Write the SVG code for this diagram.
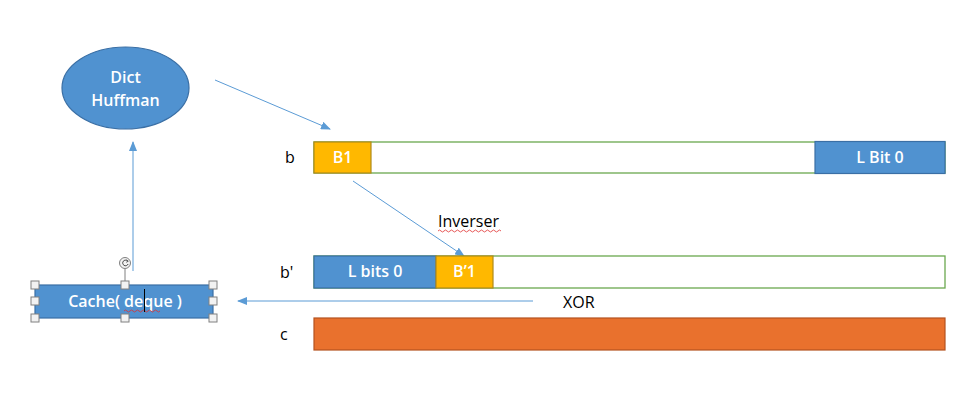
<svg xmlns="http://www.w3.org/2000/svg" width="974" height="404" viewBox="0 0 974 404">
<defs>
<style>
.lbl{font-family:"Open Sans","Liberation Sans",sans-serif;font-size:16px;fill:#000}
.wt{font-family:"Open Sans","Liberation Sans",sans-serif;font-size:16px;font-weight:600;fill:#fff;text-anchor:middle}
.blue{fill:#5092D0;stroke:#3A6FA5;stroke-width:1.2}
.orange{fill:#FFB800;stroke:#B08A1A;stroke-width:1.2}
.frame{fill:#fff;stroke:#6AA84F;stroke-width:1.3}
.conn{stroke:#5B9BD5;stroke-width:1;fill:none}
.handle{fill:#f2f2f2;stroke:#808080;stroke-width:1}
.squig{stroke:#E03030;stroke-width:0.8;fill:none}
</style>
<marker id="ah" markerWidth="10" markerHeight="8" refX="9" refY="4" orient="auto" markerUnits="userSpaceOnUse">
<path d="M0,0 L10,4 L0,8 Z" fill="#5B9BD5"/>
</marker>
</defs>
<rect width="974" height="404" fill="#fff"/>

<g id="connectors">
<line class="conn" x1="215" y1="80" x2="330" y2="129" marker-end="url(#ah)"/>
<line class="conn" x1="353" y1="181" x2="464" y2="256" marker-end="url(#ah)"/>
<line class="conn" x1="533" y1="301" x2="238" y2="301" marker-end="url(#ah)"/>
<line class="conn" x1="133" y1="271" x2="133" y2="142" marker-end="url(#ah)"/>
</g>

<g id="dict">
<ellipse class="blue" cx="125.5" cy="88" rx="63.5" ry="41"/>
<text class="wt" x="125.5" y="83">Dict</text>
<text class="wt" x="125.5" y="106">Huffman</text>
</g>

<g id="row-b">
<text class="lbl" x="285" y="163">b</text>
<rect class="frame" x="314" y="142" width="631" height="31"/>
<rect class="orange" x="314" y="142" width="57" height="31"/>
<text class="wt" x="342.5" y="163">B1</text>
<rect class="blue" x="815" y="141.5" width="130" height="32"/>
<text class="wt" x="880" y="163">L Bit 0</text>
</g>

<g id="inverser">
<text class="lbl" x="438" y="227">Inverser</text>
<path class="squig" d="M438,231 q1.5,-2 3,0 t3,0 t3,0 t3,0 t3,0 t3,0 t3,0 t3,0 t3,0 t3,0 t3,0 t3,0 t3,0 t3,0 t3,0 t3,0 t3,0 t3,0 t3,0 t3,0 t3,0"/>
</g>

<g id="row-bprime">
<text class="lbl" x="280" y="278">b'</text>
<rect class="frame" x="314" y="256" width="631" height="32"/>
<rect class="blue" x="314" y="256" width="122" height="32"/>
<text class="wt" x="375" y="277">L bits 0</text>
<rect class="orange" x="436" y="256" width="57" height="32"/>
<text class="wt" x="464.5" y="277">B’1</text>
</g>

<g id="xor">
<text class="lbl" x="563" y="308">XOR</text>
</g>

<g id="row-c">
<text class="lbl" x="280" y="340">c</text>
<rect x="314" y="318" width="631" height="32" fill="#E9712D" stroke="#B5521E" stroke-width="1.2"/>
</g>

<g id="cache">
<rect class="blue" x="35" y="285" width="178" height="33"/>
<text class="wt" x="125" y="307">Cache( deque )</text>
<path class="squig" d="M124,311 q1.5,-2 3,0 t3,0 t3,0 t3,0 t3,0 t3,0 t3,0 t3,0 t3,0 t3,0 t3,0 t3,0"/>
<line x1="144.5" y1="289" x2="144.5" y2="312" stroke="#000" stroke-width="1"/>
<line x1="125" y1="269" x2="125" y2="285" stroke="#808080" stroke-width="1"/>
<circle cx="125" cy="263" r="5.5" fill="#f2f2f2" stroke="#808080" stroke-width="1"/>
<path d="M127.5,261 a2.8,2.8 0 1 0 0.6,3" fill="none" stroke="#404040" stroke-width="1"/>
<path d="M126.5,259.8 L128.3,261.2 L126.2,262.3" fill="none" stroke="#404040" stroke-width="0.8"/>
<rect class="handle" x="31" y="281" width="8" height="8"/>
<rect class="handle" x="121" y="281" width="8" height="8"/>
<rect class="handle" x="209" y="281" width="8" height="8"/>
<rect class="handle" x="31" y="297" width="8" height="8"/>
<rect class="handle" x="209" y="297" width="8" height="8"/>
<rect class="handle" x="31" y="314" width="8" height="8"/>
<rect class="handle" x="121" y="314" width="8" height="8"/>
<rect class="handle" x="209" y="314" width="8" height="8"/>
</g>
</svg>
